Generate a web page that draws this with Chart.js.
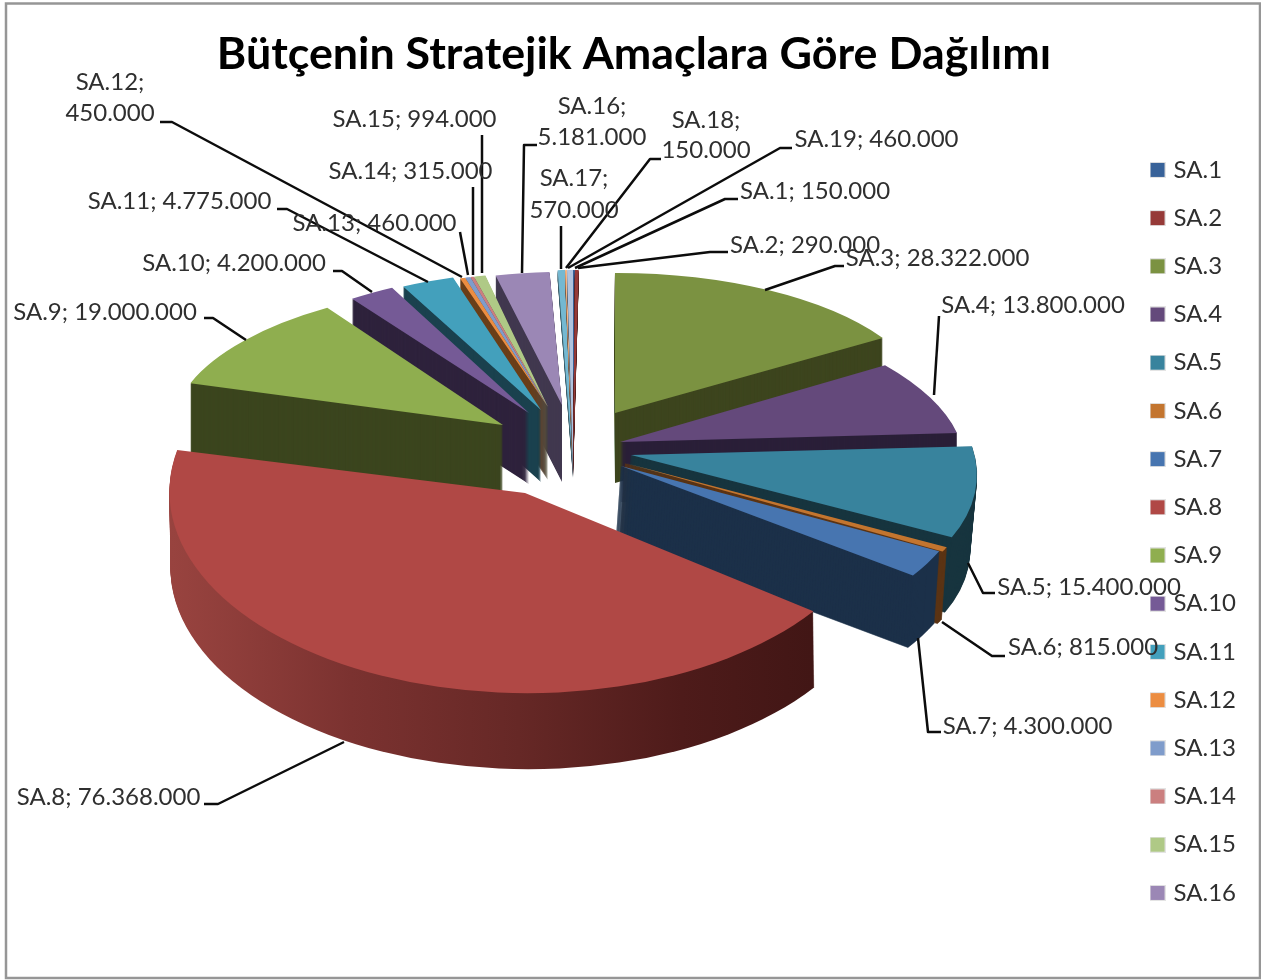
<!DOCTYPE html>
<html><head><meta charset="utf-8">
<style>html,body{margin:0;padding:0;background:#fff}canvas{display:block}</style>
<script src="https://cdn.jsdelivr.net/npm/chart.js@4"></script>
</head><body><canvas id="c" width="1261" height="980"></canvas>
<script>
const categories = ['SA.1','SA.2','SA.3','SA.4','SA.5','SA.6','SA.7','SA.8','SA.9','SA.10','SA.11','SA.12','SA.13','SA.14','SA.15','SA.16','SA.17','SA.18','SA.19'];
const values = [150000,290000,28322000,13800000,15400000,815000,4300000,76368000,19000000,4200000,4775000,450000,460000,315000,994000,5181000,570000,150000,460000];
const topColors = ['#386299','#963a38','#7b9241','#64497b','#38839d','#c3752f','#4775b0','#b04845','#8fae4f','#755a96','#43a0bc','#ec8d41','#7f9ccb','#cb7f7f','#afc986','#9b87b5','#74b8d1','#f6b585','#b0c3de'];
const wallColors = ['#1c3049','#4a1c1b','#3d451e','#2a1f38','#17353f','#5b3414','#1c3049','#3e1513','#3b451e','#2e223c','#1a414e','#6a3e18','#3c4e66','#663f3f','#576443','#41384f','#3a5c68','#7b5a42','#58616f'];
const sa8SideStops = ['#98433f','#7b3230','#662826','#4e1b1a','#3f1514'];
const drawOrder = [2,3,4,5,6,16,17,18,0,1,15,14,13,12,11,10,9,8,7];
// 3D projection of each exploded slice: tip, affine radius axes, extrusion
const frames = {
  0:[573,468,365,0,0,198,10,0],1:[573,468,365,0,0,198,10,0],
  2:[615,413,316,5,-3,140,70,0],3:[620,442,340,50,-1.5,146,60,0],
  4:[631,455,343.5,40,0,172,75,-7],5:[625,463,350,30,0,176,72,-5],
  6:[621,466,349,33,-9,185,72,-5],7:[525,493,355,20,-10,200,76,1],
  8:[503,425,330,-22,5,141,72,0],9:[529,413,310,-6,0,141,71,0],
  10:[541,410,314,-7,0,139,72,0],11:[548,407,330,-12,0,135,73,0],
  12:[548,407,330,-12,0,135,73,0],13:[548,407,330,-12,0,135,73,0],
  14:[548,407,330,-12,0,135,73,0],15:[562,405,295,0,0,133,77,0],
  16:[573,468,365,0,0,198,10,0],17:[573,468,365,0,0,198,10,0],18:[573,468,365,0,0,198,10,0]
};
// label anchors: cx, cy of first line, wrapped?, leader polyline
const labelLayout = [
  [815,191,0,[[575,268],[725,199],[738,199]]],
  [805,245,0,[[578,268],[710,252],[728,252]]],
  [937.5,258,0,[[765,290],[835,266],[844,266]]],
  [1033,305,0,[[934,395],[939,316]]],
  [1089,587,0,[[968,563],[983,593],[995,593]]],
  [1083,647,0,[[942,622],[992,656],[1005,656]]],
  [1027.5,726,0,[[918,638],[928,732],[941,732]]],
  [108.5,797,0,[[344,742],[218,804],[204,804]]],
  [105,312,0,[[246,340],[213,318],[204,318]]],
  [234,263,0,[[372,292],[342,271],[333,271]]],
  [179.5,201,0,[[428,282],[287,209],[277,209]]],
  [110,82,31,[[462,277],[172,122],[160,122]]],
  [374.5,223,0,[[468,275],[460,232]]],
  [410.5,171,0,[[473,275],[473,187]]],
  [414.5,119,0,[[482,273],[482,135]]],
  [592,106,31,[[522,273],[524,145],[537,145]]],
  [574,178,32,[[561,269],[561,226]]],
  [706,120,30,[[566,268],[650,159],[661,159]]],
  [876.5,139,0,[[568,268],[780,148],[792,148]]]
];
const fmt = v => String(v).replace(/\B(?=(\d{3})+$)/g,'.');
const labelFont = '24px Lato';

function boxImage(color){
  const s=document.createElement('canvas');s.width=16;s.height=16;
  const g=s.getContext('2d');g.fillStyle='#e4e4e4';g.fillRect(0,0,16,16);g.fillStyle=color;g.fillRect(1,1,14,14);
  return s;
}
const pie3d = {
  id:'pie3d',
  beforeDraw(chart){
    const ctx=chart.ctx;ctx.save();
    ctx.fillStyle='#fff';ctx.fillRect(0,0,1261,980);
    ctx.strokeStyle='#969696';ctx.lineWidth=2.5;ctx.strokeRect(6,3.5,1254,974.5);
    ctx.restore();
  },
  beforeDatasetsDraw(chart){
    const ctx=chart.ctx, arcs=chart.getDatasetMeta(0).data;
    const paint=(arc,f,k,fill,edge)=>{
      const R=arc.outerRadius, s=1/R;
      ctx.save();
      ctx.transform(f[2]*s,f[4]*s,f[3]*s,f[5]*s,f[0]+(f[6]?f[7]*k/f[6]:0),f[1]+k);
      ctx.translate(-arc.x,-arc.y);
      const saved=arc.options;
      let bg=fill;
      if(typeof fill==='function') bg=fill(arc);
      arc.options=Object.assign({},saved,{backgroundColor:bg,borderColor:bg,borderWidth:edge||0,offset:0,spacing:0});
      arc.draw(ctx);
      arc.options=saved;
      ctx.restore();
    };
    const sideGrad=arc=>{
      const g=ctx.createLinearGradient(arc.x-arc.outerRadius,0,arc.x+arc.outerRadius*0.85,0);
      sa8SideStops.forEach((c,i)=>g.addColorStop(i/(sa8SideStops.length-1),c));
      return g;
    };
    drawOrder.forEach(i=>{
      const f=frames[i],arc=arcs[i];
      for(let k=f[6];k>=1;k--) paint(arc,f,k,i===7?sideGrad:wallColors[i],(f[7]&&i!==7)?1:0);
      paint(arc,f,0,topColors[i]);
    });
    return false;
  },
  afterDraw(chart){
    const ctx=chart.ctx;ctx.save();
    ctx.strokeStyle='#0c0c0c';ctx.lineWidth=2.5;ctx.lineJoin='round';
    labelLayout.forEach(l=>{
      ctx.beginPath();l[3].forEach((p,i)=>i?ctx.lineTo(p[0],p[1]):ctx.moveTo(p[0],p[1]));ctx.stroke();
    });
    ctx.fillStyle='#2f2f2f';ctx.font=labelFont;ctx.textAlign='center';ctx.textBaseline='middle';
    labelLayout.forEach((l,i)=>{
      const name=categories[i],val=fmt(values[i]);
      if(l[2]){ctx.fillText(name+';',l[0],l[1]);ctx.fillText(val,l[0],l[1]+l[2]);}
      else ctx.fillText(name+'; '+val,l[0],l[1]);
    });
    ctx.restore();
  }
};
new Chart(document.getElementById('c'),{
  type:'pie',
  data:{labels:categories,datasets:[{data:values,backgroundColor:topColors,borderWidth:0}]},
  plugins:[pie3d],
  options:{
    responsive:false,animation:false,
    layout:{padding:{left:22,right:15,top:0,bottom:0}},
    plugins:{
      tooltip:{enabled:false},
      title:{display:true,text:'Bütçenin Stratejik Amaçlara Göre Dağılımı',color:'#000',font:{family:'Lato',size:44.8,weight:'bold'},padding:{top:28,bottom:1}},
      legend:{position:'right',fullSize:false,labels:{
        color:'#2f2f2f',font:{family:'Lato',size:24},padding:24.2,boxHeight:15,boxWidth:8,usePointStyle:true,pointStyleWidth:8,
        filter:it=>it.index<16,
        generateLabels(chart){
          return categories.map((t,i)=>({text:t,index:i,fontColor:'#2f2f2f',pointStyle:boxImage(topColors[i]),fillStyle:topColors[i],strokeStyle:topColors[i],lineWidth:0,hidden:false}));
        }
      }}
    }
  }
});
</script></body></html>
